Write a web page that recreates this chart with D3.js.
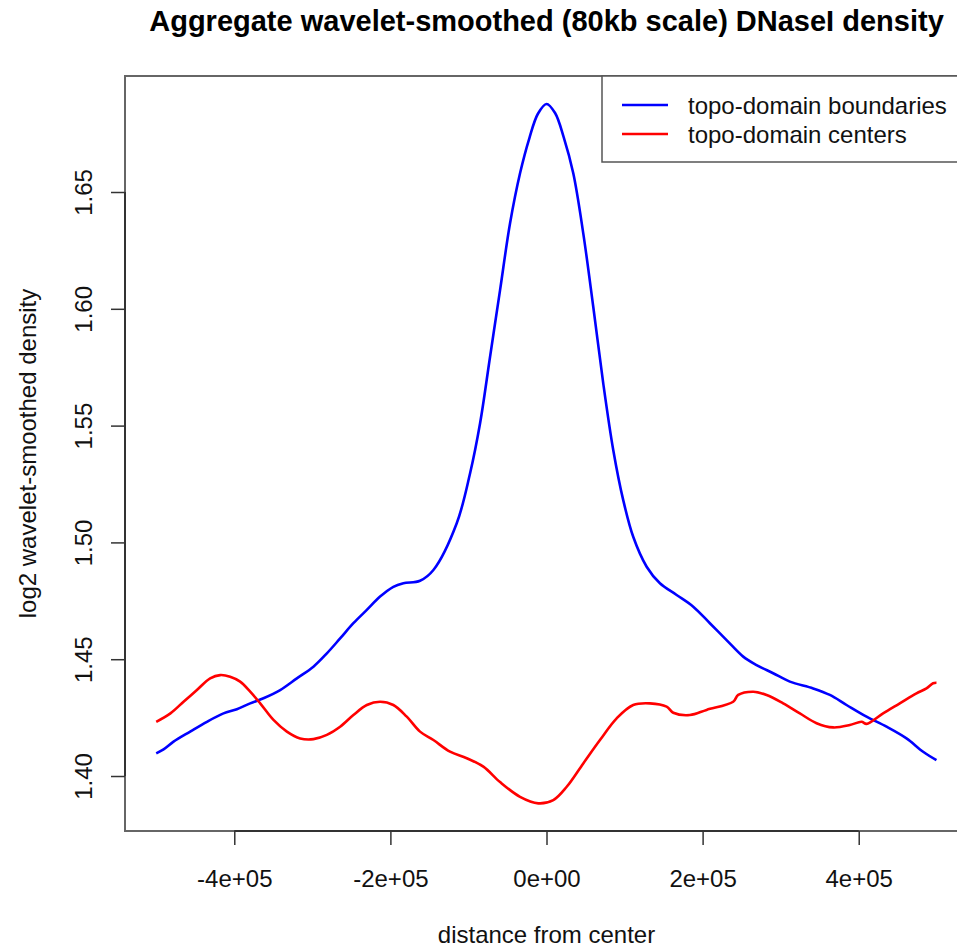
<!DOCTYPE html>
<html>
<head>
<meta charset="utf-8">
<script src="https://cdn.jsdelivr.net/npm/d3@7"></script>
<style>
  body { margin: 0; background: #fff; }
  svg { display: block; }
</style>
</head>
<body>
<script>
var wW = 957;
var wH = 950;

// distance from center (bp) and log2 density
var boundaryX = [-500000, -490600, -477800, -456500, -435100, -413800, -396700, -379600, -362600, -341200,
  -319800, -298600, -281400, -264400, -247400, -230200, -213200, -196200, -183400, -162000,
  -144900, -115000, -97900, -85100, -72300, -59500, -46700, -33900, -22000, -11000, 0,
  11000, 22000, 34300, 47100, 59900, 72700, 85500, 98300, 111100, 128300, 145300,
  166700, 188000, 209300, 230700, 252000, 269100, 290400, 311800, 341600, 363000,
  384400, 410000, 435600, 461200, 482500, 499600];
var boundaryY = [1.4097, 1.4114, 1.4147, 1.4190, 1.4232, 1.4268, 1.4286, 1.4311, 1.4333, 1.4368,
  1.4418, 1.4468, 1.4525, 1.4589, 1.4654, 1.4711, 1.4768, 1.4810, 1.4825, 1.4836,
  1.4882, 1.5082, 1.5296, 1.5510, 1.5795, 1.6080, 1.6366, 1.6580, 1.6730, 1.6835, 1.6877,
  1.6838, 1.6735, 1.6580, 1.6323, 1.6009, 1.5681, 1.5396, 1.5181, 1.5024, 1.4896, 1.4825,
  1.4775, 1.4725, 1.4654, 1.4582, 1.4511, 1.4475, 1.4440, 1.4404, 1.4375, 1.4347,
  1.4304, 1.4254, 1.4211, 1.4161, 1.4104, 1.4068];

var centerX = [-500000, -481800, -465000, -447900, -430900, -418100, -405300, -392500, -379600, -366800,
  -349800, -332600, -315600, -298600, -281400, -264400, -247400, -230200, -213200, -196200,
  -179000, -162000, -144900, -123600, -102200, -80900, -59500, -33900, -10500, 8700,
  25900, 47100, 68500, 89900, 111100, 132500, 153900, 162400, 183700, 205100,
  239200, 245600, 264800, 282000, 303200, 324600, 346000, 367200, 388600, 403600,
  410000, 431200, 452600, 474000, 486800, 495300, 499600];
var centerY = [1.4232, 1.4268, 1.4318, 1.4368, 1.4418, 1.4432, 1.4425, 1.4404, 1.4361, 1.4311,
  1.4240, 1.4190, 1.4161, 1.4158, 1.4176, 1.4211, 1.4261, 1.4304, 1.4318, 1.4304,
  1.4254, 1.4190, 1.4154, 1.4104, 1.4076, 1.4040, 1.3974, 1.3911, 1.3883, 1.3897,
  1.3954, 1.4054, 1.4154, 1.4247, 1.4304, 1.4311, 1.4297, 1.4271, 1.4261, 1.4283,
  1.4318, 1.4347, 1.4361, 1.4347, 1.4311, 1.4268, 1.4226, 1.4208, 1.4218, 1.4232,
  1.4223, 1.4268, 1.4311, 1.4354, 1.4375, 1.4397, 1.4399];

var xTicks = [-400000, -200000, 0, 200000, 400000];
var xTickLabels = ["-4e+05", "-2e+05", "0e+00", "2e+05", "4e+05"];
var yTicks = [1.40, 1.45, 1.50, 1.55, 1.60, 1.65];
var yTickLabels = ["1.40", "1.45", "1.50", "1.55", "1.60", "1.65"];

var seriesNames = ["topo-domain boundaries", "topo-domain centers"];
var seriesColors = ["#0000ff", "#ff0000"];

// plot region (R style, 4% padding on the data range); runs off the right edge
var pLeft = 125, pRight = 968, pTop = 76, pBottom = 831;
var fontFam = "'Liberation Sans', Arial, Helvetica, sans-serif";

var x = d3.scaleLinear().domain([-540000, 540000]).range([pLeft, pRight]);
var y = d3.scaleLinear().domain([1.37646, 1.69966]).range([pBottom, pTop]);

var svg = d3.select("body").append("svg")
  .attr("width", wW)
  .attr("height", wH)
  .style("font-family", fontFam);

// box
svg.append("rect")
  .attr("x", pLeft)
  .attr("y", pTop)
  .attr("width", pRight - pLeft)
  .attr("height", pBottom - pTop)
  .attr("fill", "none")
  .attr("stroke", "#666")
  .attr("stroke-width", 2);

// x axis
var xAxis = svg.append("g")
  .attr("transform", "translate(0," + pBottom + ")")
  .call(d3.axisBottom(x)
    .tickValues(xTicks)
    .tickFormat(function(d, i) { return xTickLabels[i]; })
    .tickSize(14));
xAxis.select(".domain").remove();
xAxis.append("line")
  .attr("x1", x(xTicks[0])).attr("x2", x(xTicks[xTicks.length - 1]))
  .attr("stroke", "#333").attr("stroke-width", 2);
xAxis.selectAll(".tick line").attr("stroke", "#333").attr("stroke-width", 1.5);
xAxis.selectAll(".tick text")
  .attr("y", 56)
  .attr("dy", null)
  .attr("font-size", 24)
  .attr("font-family", fontFam)
  .attr("fill", "#111");

// y axis
var yAxis = svg.append("g")
  .attr("transform", "translate(" + pLeft + ",0)")
  .call(d3.axisLeft(y)
    .tickValues(yTicks)
    .tickFormat(function(d, i) { return yTickLabels[i]; })
    .tickSize(14));
yAxis.select(".domain").remove();
yAxis.append("line")
  .attr("y1", y(yTicks[0])).attr("y2", y(yTicks[yTicks.length - 1]))
  .attr("stroke", "#333").attr("stroke-width", 2);
yAxis.selectAll(".tick line").attr("stroke", "#333").attr("stroke-width", 1.5);
yAxis.selectAll(".tick text")
  .attr("font-size", 24)
  .attr("font-family", fontFam)
  .attr("fill", "#111")
  .attr("x", null).attr("dy", null)
  .attr("text-anchor", "middle")
  .attr("transform", "translate(-33,0) rotate(-90)");

// lines
var line = d3.line()
  .x(function(d) { return x(d[0]); })
  .y(function(d) { return y(d[1]); })
  .curve(d3.curveCatmullRom.alpha(0.5));

var series = [d3.zip(boundaryX, boundaryY), d3.zip(centerX, centerY)];
series.forEach(function(s, i) {
  svg.append("path")
    .datum(s)
    .attr("d", line)
    .attr("fill", "none")
    .attr("stroke", seriesColors[i])
    .attr("stroke-width", 2.6)
    .attr("stroke-linejoin", "round");
});

// legend
var legend = svg.append("g");
legend.append("rect")
  .attr("x", 602).attr("y", pTop)
  .attr("width", 400).attr("height", 162 - pTop)
  .attr("fill", "#fff")
  .attr("stroke", "#555")
  .attr("stroke-width", 1.5);
seriesNames.forEach(function(name, i) {
  var ly = 105 + i * 29;
  legend.append("line")
    .attr("x1", 622).attr("x2", 668)
    .attr("y1", ly).attr("y2", ly)
    .attr("stroke", seriesColors[i])
    .attr("stroke-width", 2.6);
  legend.append("text")
    .attr("x", 688).attr("y", ly + 9)
    .attr("font-size", 24)
    .attr("fill", "#111")
    .text(name);
});

// titles
svg.append("text")
  .attr("x", (pLeft + pRight) / 2)
  .attr("y", 31)
  .attr("text-anchor", "middle")
  .attr("font-size", 29)
  .attr("font-weight", "bold")
  .attr("fill", "#000")
  .text("Aggregate wavelet-smoothed (80kb scale) DNaseI density");

svg.append("text")
  .attr("x", (pLeft + pRight) / 2)
  .attr("y", 943)
  .attr("text-anchor", "middle")
  .attr("font-size", 24)
  .attr("fill", "#111")
  .text("distance from center");

svg.append("text")
  .attr("transform", "translate(36," + (pTop + pBottom) / 2 + ") rotate(-90)")
  .attr("text-anchor", "middle")
  .attr("font-size", 24)
  .attr("fill", "#111")
  .text("log2 wavelet-smoothed density");
</script>
</body>
</html>
